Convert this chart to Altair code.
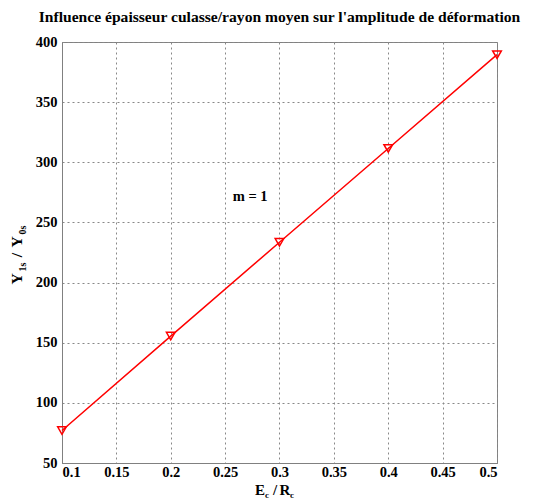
import altair as alt
import pandas as pd

ratio = [0.1, 0.2, 0.3, 0.4, 0.5]
amplitude = [77, 155.5, 233.5, 311.5, 389.5]
x_ticks = [0.1, 0.15, 0.2, 0.25, 0.3, 0.35, 0.4, 0.45, 0.5]
y_ticks = [50, 100, 150, 200, 250, 300, 350, 400]
title_text = "Influence épaisseur culasse/rayon moyen sur l'amplitude de déformation"
annotation = ["m = 1"]
annot_x = [0.273]
annot_y = [271]

FONT = "Liberation Serif"
RED = "#ff0000"

df = pd.DataFrame({"r": ratio, "a": amplitude})
ann = pd.DataFrame({"t": annotation, "x": annot_x, "y": annot_y})

xscale = alt.Scale(domain=[0.1, 0.5], nice=False, zero=False)
yscale = alt.Scale(domain=[50, 400], nice=False, zero=False)

xaxis = alt.Axis(values=x_ticks, title=None, labelFont=FONT, labelFontWeight="bold",
                 labelFontSize=14.5, labelColor="black", grid=True, gridDash=[2, 3],
                 gridColor="#888888", domainColor="#808080", ticks=False, labelPadding=2,
                 labelExpr="format(datum.value, '.2~f')")
yaxis = alt.Axis(values=y_ticks, title=None, labelFont=FONT, labelFontWeight="bold",
                 labelFontSize=14.5, labelColor="black", grid=True, gridDash=[2, 3],
                 gridColor="#888888", domainColor="#808080", ticks=False, labelPadding=5)

base = alt.Chart(df)
line = base.mark_line(color=RED, strokeWidth=1.5).encode(
    x=alt.X("r:Q", scale=xscale, axis=xaxis),
    y=alt.Y("a:Q", scale=yscale, axis=yaxis),
)
pts = base.mark_point(shape="triangle-down", size=75, filled=False, color=RED, strokeWidth=1.5,
                      opacity=1).encode(x=alt.X("r:Q", scale=xscale), y=alt.Y("a:Q", scale=yscale))

note = alt.Chart(ann).mark_text(font=FONT, fontWeight="bold", fontSize=14.5, color="black").encode(
    x=alt.X("x:Q", scale=xscale), y=alt.Y("y:Q", scale=yscale), text="t:N")

def piece(txt, x, y, size, angle=0):
    return alt.Chart(pd.DataFrame({"t": [txt]})).mark_text(
        font=FONT, fontWeight="bold", fontSize=size, color="black", align="center",
        baseline="alphabetic", angle=angle).encode(text="t:N", x=alt.value(x), y=alt.value(y))

ylabel = (piece("Y", -40, 237, 15.5, 270) + piece("1s", -36, 225, 10, 270) +
          piece("/", -40, 213, 15.5, 270) + piece("Y", -40, 200, 15.5, 270) +
          piece("0s", -36, 188, 10, 270))
xlabel = (piece("E", 198, 453, 15) + piece("c", 205, 456, 9) + piece("/", 213, 453, 15) +
          piece("R", 223, 453, 15) + piece("c", 230, 456, 9))

chart = alt.layer(line, pts, note, ylabel, xlabel).properties(
    width=435, height=421,
    title=alt.TitleParams(title_text, font=FONT, fontWeight="bold", fontSize=15.6, color="black",
                          offset=8, anchor="middle"),
    autosize=alt.AutoSizeParams(type="none"),
    padding={"left": 54, "top": 34, "right": 34, "bottom": 39},
).configure_view(stroke="#808080", strokeWidth=1)

chart.save("out.html", embed_options={"renderer": "svg", "actions": False})
